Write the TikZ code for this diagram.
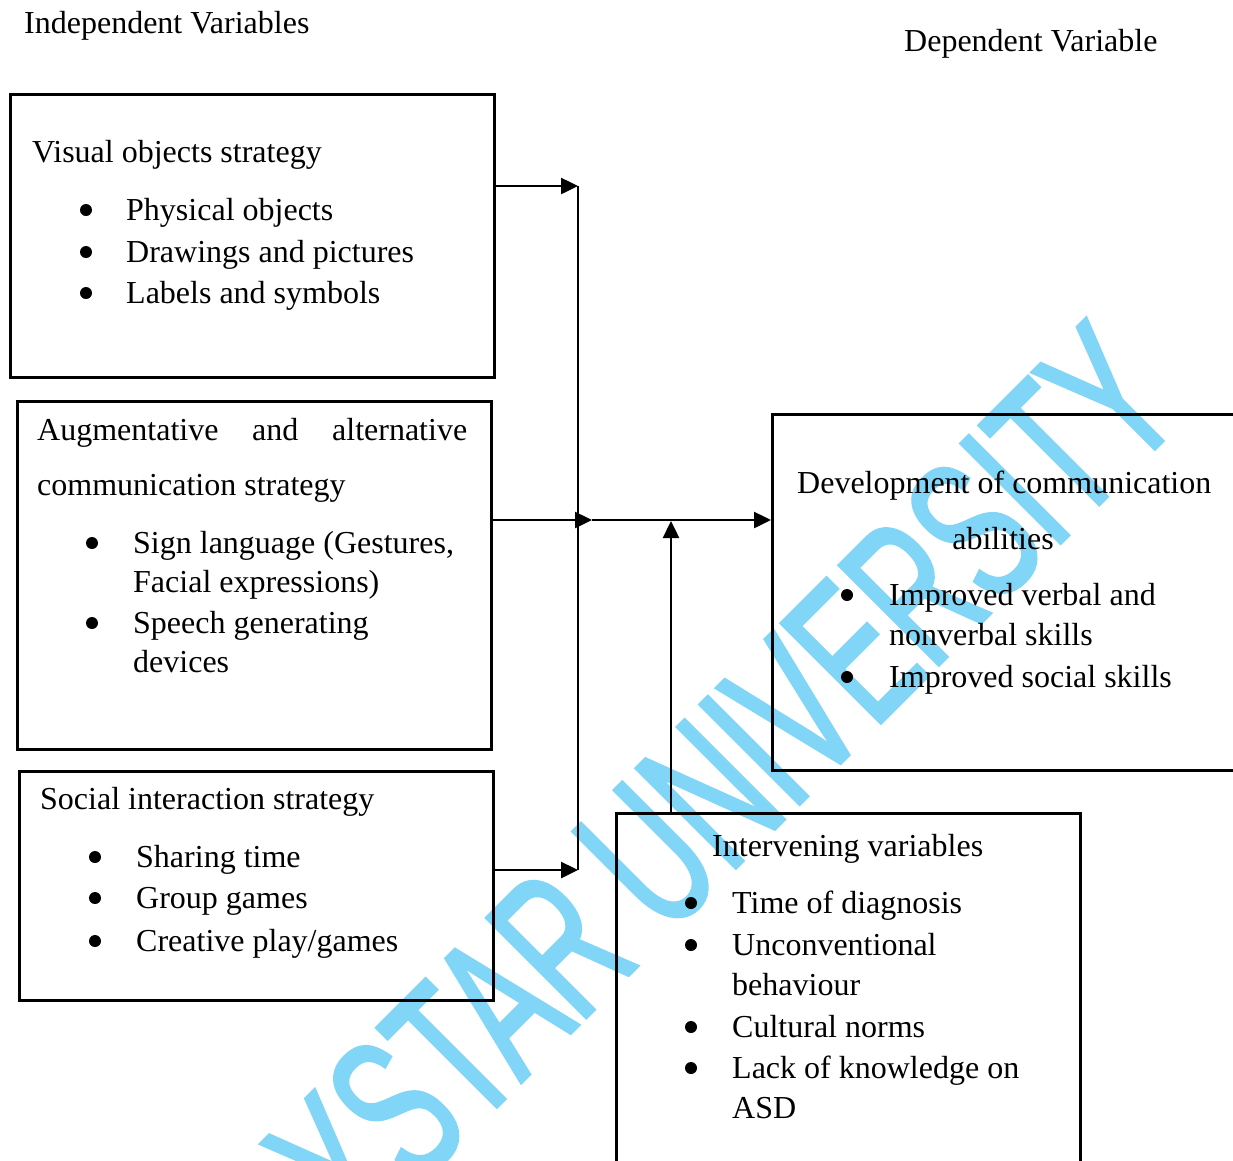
\documentclass[tikz,border=0pt]{standalone}
\usepackage{fontspec}
\setmainfont{Liberation Serif}
\newfontfamily\wmfont[FakeStretch=0.6,FakeBold=1.5]{Liberation Sans}
\usetikzlibrary{arrows.meta}
\definecolor{wmblue}{RGB}{129,214,247}
\begin{document}
\begin{tikzpicture}[x=1pt,y=-1pt,
  box/.style={draw, line width=2.5pt, inner sep=0pt, anchor=north west},
  txt/.style={anchor=base west, inner sep=0pt, font=\fontsize{32}{38}\selectfont},
  ctr/.style={anchor=base, inner sep=0pt, font=\fontsize{32}{38}\selectfont},
  bul/.style={circle, fill=black, inner sep=0pt, minimum size=12pt},
  conn/.style={line width=2.5pt},
  arr/.style={line width=2.5pt, -{Triangle[length=17pt,width=16pt]}},
  wm/.style={rotate=45, text=wmblue, inner sep=0pt, font=\wmfont\fontsize{205}{205}\selectfont}
]
\useasboundingbox (0,0) rectangle (1233,1160);
\clip (0,0) rectangle (1233,1160);
\fill[white] (0,0) rectangle (1233,1160);

% watermark
\node[wm] (wmark) at (666,838) {DAYSTAR UNIVERSITY};

% titles
\node[txt] (tind) at (24,33) {Independent Variables};
\node[txt] (tdep) at (904,51) {Dependent Variable};

% boxes
\node[box, minimum width=484pt, minimum height=283pt] (b1) at (9,93) {};
\node[box, minimum width=474pt, minimum height=348pt] (b2) at (16,400) {};
\node[box, minimum width=474pt, minimum height=229pt] (b3) at (18,770) {};
\node[box, minimum width=474pt, minimum height=356pt] (b4) at (771,413) {};
\node[box, minimum width=464pt, minimum height=363pt] (b5) at (615,812) {};

% box 1 text
\node[txt] (b1h) at (32,162) {Visual objects strategy};
\node[bul] (b1u1) at (86,210) {};
\node[bul] (b1u2) at (86,252) {};
\node[bul] (b1u3) at (86,293) {};
\node[txt] (b1t1) at (126,220) {Physical objects};
\node[txt] (b1t2) at (126,262) {Drawings and pictures};
\node[txt] (b1t3) at (126,303) {Labels and symbols};

% box 2 text
\node[txt] (b2h1) at (37,440) {\hbox to 430pt{Augmentative\hfil and\hfil alternative}};
\node[txt] (b2h2) at (37,495) {communication strategy};
\node[bul] (b2u1) at (92,543) {};
\node[bul] (b2u2) at (92,623) {};
\node[txt] (b2t1) at (133,553) {Sign language (Gestures,};
\node[txt] (b2t2) at (133,592) {Facial expressions)};
\node[txt] (b2t3) at (133,633) {Speech generating};
\node[txt] (b2t4) at (133,672) {devices};

% box 3 text
\node[txt] (b3h) at (40,809) {Social interaction strategy};
\node[bul] (b3u1) at (95,857) {};
\node[bul] (b3u2) at (95,898) {};
\node[bul] (b3u3) at (95,941) {};
\node[txt] (b3t1) at (136,867) {Sharing time};
\node[txt] (b3t2) at (136,908) {Group games};
\node[txt] (b3t3) at (136,951) {Creative play/games};

% box 4 text
\node[txt] (b4h1) at (797,493) {Development of communication};
\node[ctr] (b4h2) at (1003,549) {abilities};
\node[bul] (b4u1) at (847,595) {};
\node[bul] (b4u2) at (847,677) {};
\node[txt] (b4t1) at (889,605) {Improved verbal and};
\node[txt] (b4t2) at (889,645) {nonverbal skills};
\node[txt] (b4t3) at (889,687) {Improved social skills};

% box 5 text
\node[txt] (b5h) at (712,856) {Intervening variables};
\node[bul] (b5u1) at (691,903) {};
\node[bul] (b5u2) at (691,945) {};
\node[bul] (b5u3) at (691,1027) {};
\node[bul] (b5u4) at (691,1068) {};
\node[txt] (b5t1) at (732,913) {Time of diagnosis};
\node[txt] (b5t2) at (732,955) {Unconventional};
\node[txt] (b5t3) at (732,995) {behaviour};
\node[txt] (b5t4) at (732,1037) {Cultural norms};
\node[txt] (b5t5) at (732,1078) {Lack of knowledge on};
\node[txt] (b5t6) at (732,1118) {ASD};

% connectors
\coordinate (j1) at (578,186);
\coordinate (j3) at (578,870);
\coordinate (jm) at (592,520);
\coordinate (ji) at (671,521);
\draw[conn] (j1) -- (j3);
\draw[arr] (b1.east |- j1) -- (j1);
\draw[arr] (b3.east |- j3) -- (j3);
\draw[arr] (b2.east |- jm) -- (jm);
\draw[arr] (jm) -- (b4.west |- jm);
\draw[arr] (b5.north -| ji) -- (ji);
\end{tikzpicture}
\end{document}
